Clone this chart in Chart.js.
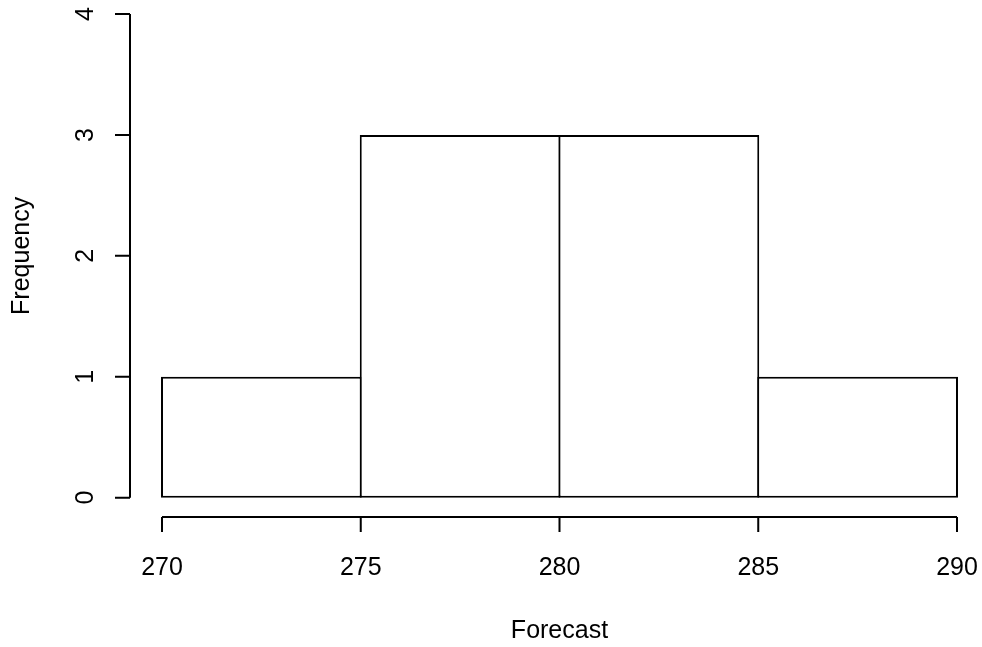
<!DOCTYPE html>
<html lang="en">
<head>
    <meta charset="UTF-8">
    <script src="https://cdn.jsdelivr.net/npm/chart.js"></script>
    <title>Forecast histogram</title>
</head>
<style>
    body {
        margin: 0;
        background: #ffffff;
    }
    .chart-container {
        width: 982px;
        height: 647px;
    }
</style>
<body>
    <div class="chart-container">
        <canvas id="histChart" width="982" height="647"></canvas>
    </div>

    <script>
        // histogram data (bin edges + counts)
        var binEdges = [270, 275, 280, 285, 290];
        var counts = [1, 3, 3, 1];
        var xTicks = [270, 275, 280, 285, 290];
        var yTicks = [0, 1, 2, 3, 4];
        var xTitle = 'Forecast';
        var yTitle = 'Frequency';

        var bars = counts.map(function (c, i) {
            return { x: (binEdges[i] + binEdges[i + 1]) / 2, y: c };
        });

        var FONT = '25px "Liberation Sans", Arial, sans-serif';

        // draws base-R style axes detached from the plot box
        var rAxes = {
            id: 'rAxes',
            afterDraw: function (chart) {
                var ctx = chart.ctx;
                var xs = chart.scales.x;
                var ys = chart.scales.y;
                var area = chart.chartArea;
                ctx.save();
                ctx.strokeStyle = '#000';
                ctx.fillStyle = '#000';
                ctx.lineWidth = 2;
                ctx.font = FONT;

                // y axis
                var ax = area.left;
                ctx.beginPath();
                ctx.moveTo(ax, ys.getPixelForValue(yTicks[0]));
                ctx.lineTo(ax, ys.getPixelForValue(yTicks[yTicks.length - 1]));
                yTicks.forEach(function (v) {
                    var py = ys.getPixelForValue(v);
                    ctx.moveTo(ax, py);
                    ctx.lineTo(ax - 15, py);
                });
                ctx.stroke();
                ctx.textAlign = 'center';
                ctx.textBaseline = 'alphabetic';
                yTicks.forEach(function (v) {
                    ctx.save();
                    ctx.translate(ax - 37, ys.getPixelForValue(v));
                    ctx.rotate(-Math.PI / 2);
                    ctx.fillText(String(v), 0, 0);
                    ctx.restore();
                });

                // x axis
                var ay = area.bottom;
                ctx.beginPath();
                ctx.moveTo(xs.getPixelForValue(xTicks[0]), ay);
                ctx.lineTo(xs.getPixelForValue(xTicks[xTicks.length - 1]), ay);
                xTicks.forEach(function (v) {
                    var px = xs.getPixelForValue(v);
                    ctx.moveTo(px, ay);
                    ctx.lineTo(px, ay + 15);
                });
                ctx.stroke();
                xTicks.forEach(function (v) {
                    ctx.fillText(String(v), xs.getPixelForValue(v), ay + 58);
                });

                // titles
                ctx.fillText(xTitle, xs.getPixelForValue(280), ay + 121);
                ctx.save();
                ctx.translate(29, ys.getPixelForValue(2));
                ctx.rotate(-Math.PI / 2);
                ctx.fillText(yTitle, 0, 0);
                ctx.restore();

                ctx.restore();
            }
        };

        var ctx = document.getElementById('histChart').getContext('2d');
        new Chart(ctx, {
            type: 'bar',
            data: {
                datasets: [{
                    data: bars,
                    backgroundColor: '#ffffff',
                    borderColor: '#000000',
                    borderWidth: 2,
                    borderSkipped: false,
                    // bars overlap by 2px so neighbours share one edge line
                    barPercentage: 1.01,
                    categoryPercentage: 1
                }]
            },
            options: {
                responsive: false,
                animation: false,
                layout: {
                    padding: { left: 130, right: 0, top: 2, bottom: 130 }
                },
                plugins: {
                    legend: { display: false },
                    tooltip: { enabled: false }
                },
                scales: {
                    x: {
                        type: 'linear',
                        display: false,
                        offset: false,
                        min: 269.195,
                        max: 290.629,
                        afterBuildTicks: function (axis) {
                            axis.ticks = xTicks.map(function (v) { return { value: v }; });
                        }
                    },
                    y: {
                        display: false,
                        min: -0.16,
                        max: 4.1,
                        afterBuildTicks: function (axis) {
                            axis.ticks = yTicks.map(function (v) { return { value: v }; });
                        }
                    }
                }
            },
            plugins: [rAxes]
        });
    </script>
</body>
</html>
